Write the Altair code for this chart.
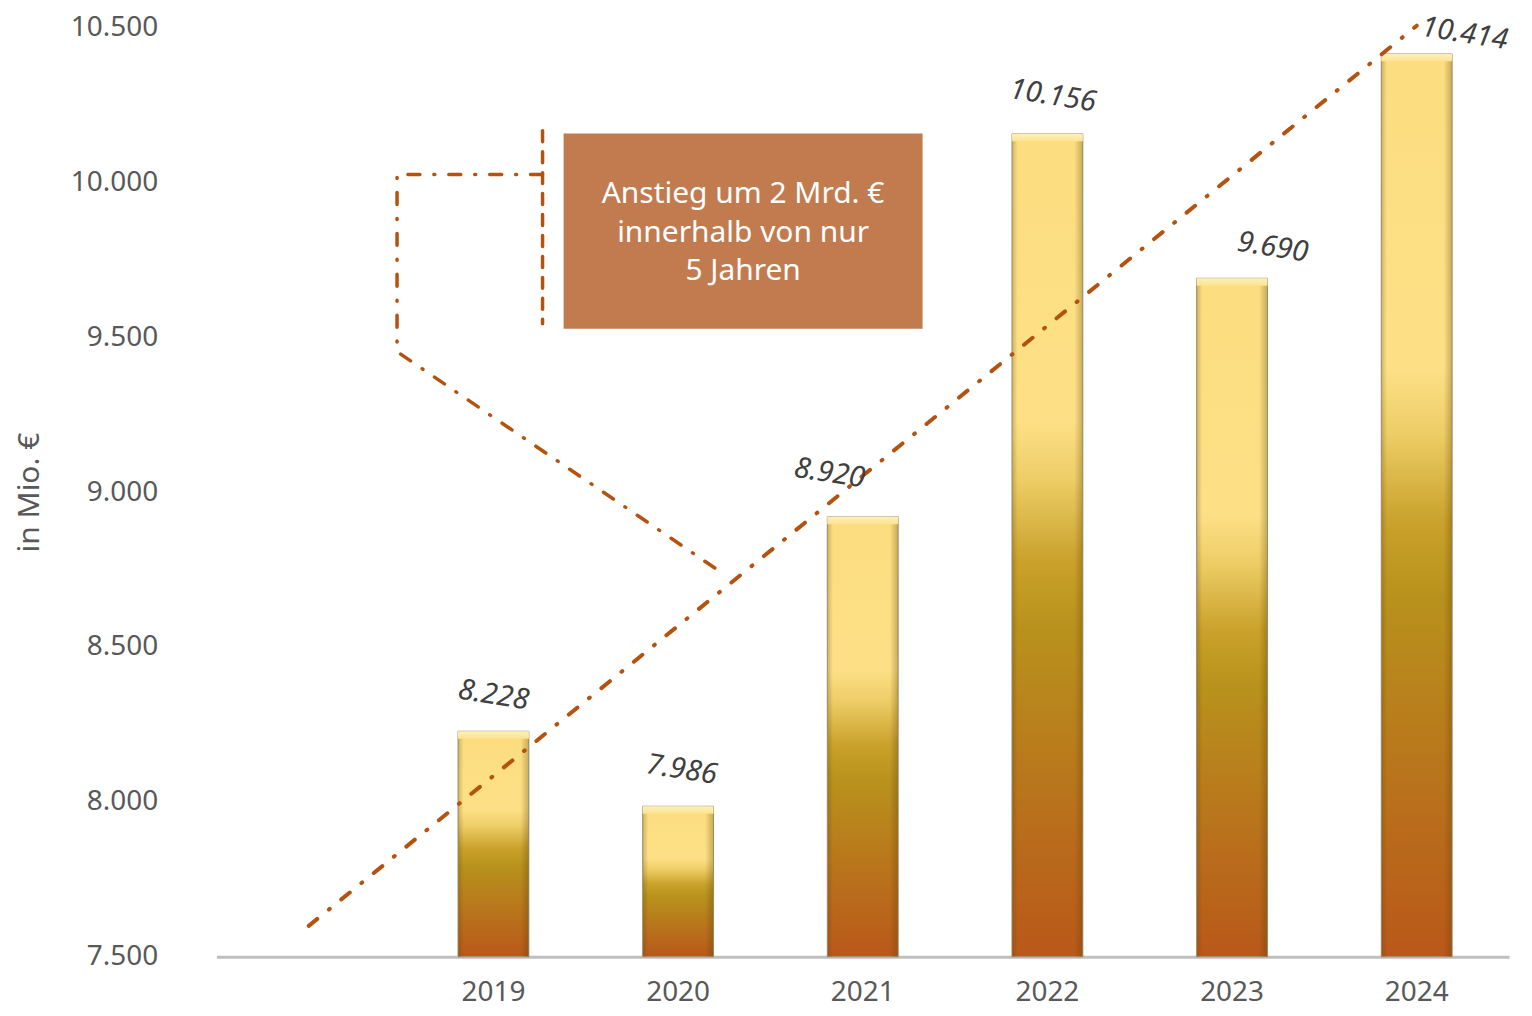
import altair as alt
import pandas as pd

# ---- data ----
years = ["2019", "2020", "2021", "2022", "2023", "2024"]
values = [8228, 7986, 8920, 10156, 9690, 10414]
value_labels = ["8.228", "7.986", "8.920", "10.156", "9.690", "10.414"]
y_ticks = [7500, 8000, 8500, 9000, 9500, 10000, 10500]
categories = [" "] + years

# trend line (category index, value)
trend_idx = [0, 6]
trend_val = [7600, 10505]

# data-label anchors (category index, value)
label_idx = [1.0, 2.02, 2.82, 4.03, 5.22, 6.26]
label_val = [8345, 8104, 9061, 10279, 9790, 10480]

# callout box and text (category index, value)
callout_text = "Anstieg um 2 Mrd. €\ninnerhalb von nur\n5 Jahren"
box_idx = [1.38, 3.324]
box_val = [9527, 10157]
text_idx = [2.352]
text_val = [9961]

# bracket paths (category index, value)
bracket_idx = [1.266, 0.478, 0.478, 2.260]
bracket_val = [10025, 10025, 9453, 8730]
bracket_v_idx = [1.266, 1.266]
bracket_v_val = [10166, 9543]

# ---- tables ----
bars_df = pd.DataFrame({"year": years, "value": values})
trend_df = pd.DataFrame({"x": trend_idx, "y": trend_val})
labels_df = pd.DataFrame({"x": label_idx, "y": label_val, "t": value_labels})
box_df = pd.DataFrame({"x": [box_idx[0]], "x2": [box_idx[1]], "y": [box_val[0]], "y2": [box_val[1]]})
text_df = pd.DataFrame({"x": text_idx, "y": text_val, "t": [callout_text]})
br_df = pd.DataFrame({"x": bracket_idx, "y": bracket_val, "o": list(range(len(bracket_idx)))})
brv_df = pd.DataFrame({"x": bracket_v_idx, "y": bracket_v_val, "o": [0, 1]})

FONT = "Noto Sans"
LINE = "#B4520F"

yscale = alt.Scale(domain=[7500, 10500], zero=False, nice=False)
y_axis_obj = alt.Axis(
    values=y_ticks, title="in Mio. €", grid=False, domain=False, ticks=False,
    tickSize=0, labelPadding=59, labelFontSize=28, labelColor="#595959",
    labelFont=FONT, labelExpr="replace(format(datum.value, ',.0f'), ',', '.')",
    titleFont=FONT, titleFontSize=30, titleColor="#595959", titleFontWeight="normal",
    titleX=-187, titleY=466, titleAngle=-90, titleBaseline="middle", titleAlign="center",
)
xband = alt.X(
    "year:N",
    scale=alt.Scale(domain=categories, paddingInner=0, paddingOuter=0),
    sort=categories,
    axis=alt.Axis(
        title=None, labelFontSize=28, labelColor="#595959", labelFont=FONT,
        ticks=False, tickSize=0, labelPadding=22, domainColor="#BFBFBF",
        domainWidth=3, labelAngle=0, grid=False,
    ),
)
yaxis = alt.Y("value:Q", scale=yscale, axis=y_axis_obj)

grad_v = alt.Gradient(
    gradient="linear", x1=0, y1=0, x2=0, y2=1,
    stops=[
        alt.GradientStop(offset=0.0, color="#FCDD80"),
        alt.GradientStop(offset=0.35, color="#FDE086"),
        alt.GradientStop(offset=0.42, color="#EDCD66"),
        alt.GradientStop(offset=0.52, color="#C9A12B"),
        alt.GradientStop(offset=0.60, color="#B8921C"),
        alt.GradientStop(offset=0.80, color="#B9741C"),
        alt.GradientStop(offset=1.0, color="#B9581A"),
    ],
)
grad_h = alt.Gradient(
    gradient="linear", x1=0, y1=0, x2=1, y2=0,
    stops=[
        alt.GradientStop(offset=0.0, color="rgba(90,60,0,0.28)"),
        alt.GradientStop(offset=0.08, color="rgba(90,60,0,0)"),
        alt.GradientStop(offset=0.88, color="rgba(90,60,0,0)"),
        alt.GradientStop(offset=1.0, color="rgba(90,60,0,0.32)"),
    ],
)
grad_bevel = alt.Gradient(
    gradient="linear", x1=0, y1=0, x2=0, y2=1,
    stops=[
        alt.GradientStop(offset=0.0, color="#FEF0BA"),
        alt.GradientStop(offset=1.0, color="#FDE38E"),
    ],
)

bw = alt.RelativeBandSize(0.384)
base_bars = alt.Chart(bars_df)
bars = base_bars.mark_bar(width=bw, color=grad_v, stroke="#A39C8A", strokeWidth=1).encode(
    x=xband, y=yaxis, y2=alt.datum(7500)
)
shade = base_bars.mark_bar(width=bw, color=grad_h).encode(
    x=alt.X("year:N", sort=categories), y=yaxis, y2=alt.datum(7500)
)
bevel = base_bars.transform_calculate(top2="datum.value - 24").mark_bar(
    width=bw, color=grad_bevel
).encode(
    x=alt.X("year:N", sort=categories), y=yaxis, y2=alt.Y2("top2:Q")
)
bar_layer = alt.layer(bars, shade, bevel)

xq = alt.Scale(domain=[-0.5, 6.5], zero=False, nice=False)
X = lambda f="x": alt.X(f + ":Q", scale=xq, axis=None)
Y = lambda f="y": alt.Y(f + ":Q", scale=yscale, axis=y_axis_obj)

trend = alt.Chart(trend_df).mark_line(
    color=LINE, strokeWidth=4, strokeDash=[11, 15, 1, 15], strokeCap="round"
).encode(x=X(), y=Y())

labels = alt.Chart(labels_df).mark_text(
    font=FONT, fontSize=29, fontStyle="italic", color="#404040", angle=9,
    align="center", baseline="middle",
).encode(x=X(), y=Y(), text="t:N")

box = alt.Chart(box_df).mark_rect(color="#C17B4F").encode(
    x=X(), x2=alt.X2("x2:Q"), y=Y(), y2=alt.Y2("y2:Q")
)
box_text = alt.Chart(text_df).mark_text(
    font=FONT, fontSize=30, color="white", lineBreak="\n", lineHeight=38.5,
    align="center", baseline="middle",
).encode(x=X(), y=Y(), text="t:N")

bracket = alt.Chart(br_df).mark_line(
    color=LINE, strokeWidth=3.5, strokeDash=[12, 14, 1, 14], strokeCap="round"
).encode(x=X(), y=Y(), order="o:O")
bracket_v = alt.Chart(brv_df).mark_line(
    color=LINE, strokeWidth=3.5, strokeDash=[11, 10], strokeCap="round"
).encode(x=X(), y=Y(), order="o:O")

annot_layer = alt.layer(bracket, bracket_v, trend, box, box_text, labels)

chart = (
    alt.layer(bar_layer, annot_layer)
    .resolve_scale(x="independent")
    .properties(
        width=1296, height=932,
        autosize=alt.AutoSizeParams(type="none"),
        padding={"left": 209, "top": 18, "right": 15, "bottom": 50},
    )
    .configure(background="white", view=alt.ViewConfig(stroke="transparent", strokeWidth=0))
)

chart.save("out.html", embed_options={"renderer": "svg", "actions": False})
